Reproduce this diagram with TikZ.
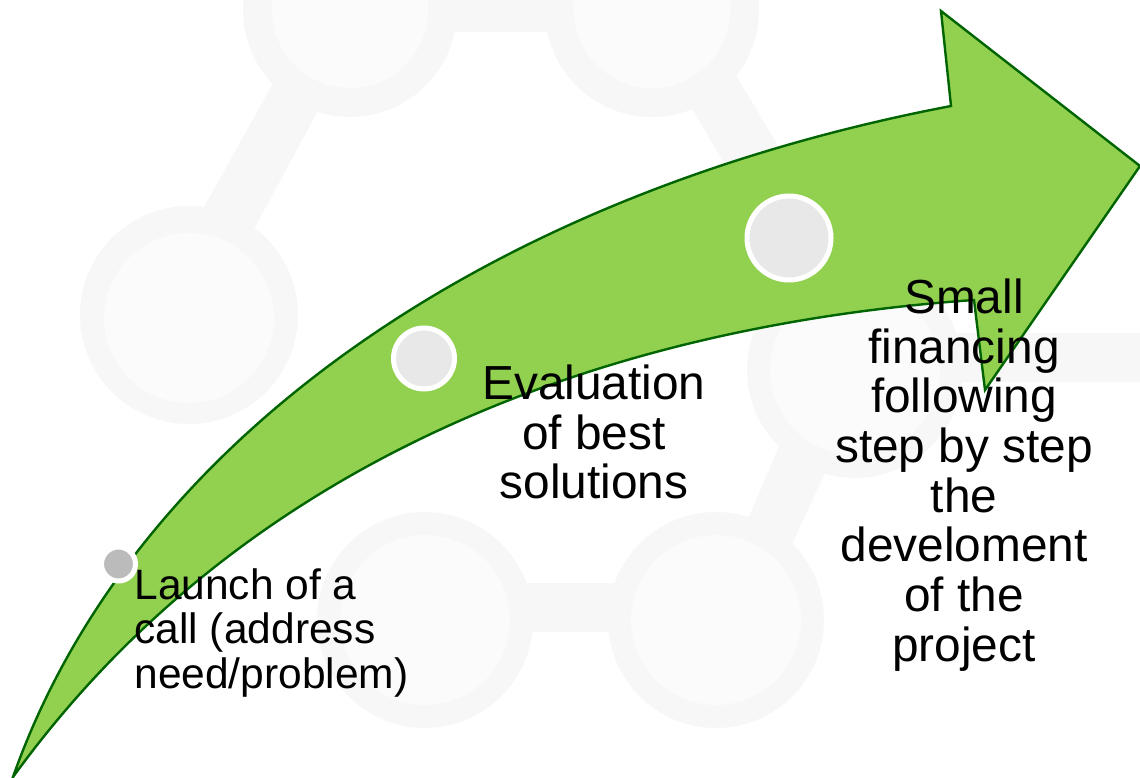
\documentclass[tikz,border=0pt]{standalone}
\usepackage{fontspec}
\setmainfont{Liberation Sans}
\definecolor{arrowfill}{HTML}{92D050}
\definecolor{arrowline}{HTML}{006400}
\definecolor{wmouter}{HTML}{F7F7F7}
\definecolor{wminner}{HTML}{FBFBFB}
\definecolor{dotlight}{HTML}{E8E8E8}
\definecolor{dotdark}{HTML}{BBBBBB}
\tikzset{
  wmbar/.style={fill=wmouter,draw=none},
  dotnode/.style={circle,draw=white,line width=5pt,inner sep=0pt,fill=dotlight},
  labelbig/.style={font=\fontsize{47.8}{49.7}\selectfont,align=center,inner sep=0pt,text=black},
  labelsmall/.style={font=\fontsize{42.5}{44.5}\selectfont,align=left,inner sep=0pt,text=black}
}
\begin{document}
\begin{tikzpicture}[x=1pt,y=-1pt]
\useasboundingbox (0,0) rectangle (1140,778);
\begin{scope}
\clip (0,0) rectangle (1140,778);
% watermark
\fill[wmouter] (350,10) circle[radius=107];
\fill[wmouter] (652,10) circle[radius=107];
\fill[wmouter] (189,315) circle[radius=109];
\fill[wmouter] (425,620) circle[radius=108];
\fill[wmouter] (716,620) circle[radius=108];
\fill[wmouter] (855,370) circle[radius=108];
\fill[wmbar] (350,-20) rectangle (652,32);
\fill[wmbar] (285,62) -- (190,232) -- (240,255) -- (333,83) -- cycle;
\fill[wmbar] (425,583) rectangle (716,632);
\fill[wmbar] (855,333) rectangle (1140,382);
\fill[wmbar] (675,80) -- (790,275) -- (840,250) -- (730,65) -- cycle;
\fill[wmbar] (790,420) -- (735,550) -- (780,570) -- (845,430) -- cycle;
\fill[wminner] (350,10) circle[radius=78];
\fill[wminner] (652,10) circle[radius=78];
\fill[wminner] (189,318) circle[radius=85];
\fill[wminner] (425,620) circle[radius=85];
\fill[wminner] (716,620) circle[radius=85];
\fill[wminner] (855,370) circle[radius=85];
% arrow
\filldraw[fill=arrowfill,draw=arrowline,line width=2.4pt,line join=miter]
  (13,777) .. controls (130,445) and (480,196) .. (951,106)
  -- (941,11) -- (1140,166) -- (985,390) -- (974,300)
  .. controls (620,325) and (250,450) .. (13,777) -- cycle;
\end{scope}
\node[dotnode,minimum size=34pt,fill=dotdark] (d1) at (118.5,564) {};
\node[dotnode,minimum size=61pt] (d2) at (424,358.5) {};
\node[dotnode,minimum size=84pt] (d3) at (789,238) {};
\node[labelsmall,anchor=center] (t1) at (271.5,633) {Launch of a\\call (address\\need/problem)};
\node[labelbig,anchor=center] (t2) at (594,432) {Evaluation\\of best\\solutions};
\node[labelbig,anchor=center] (t3) at (964,475) {Small\\financing\\following\\step by step\\the\\develoment\\of the\\project};
\end{tikzpicture}
\end{document}
